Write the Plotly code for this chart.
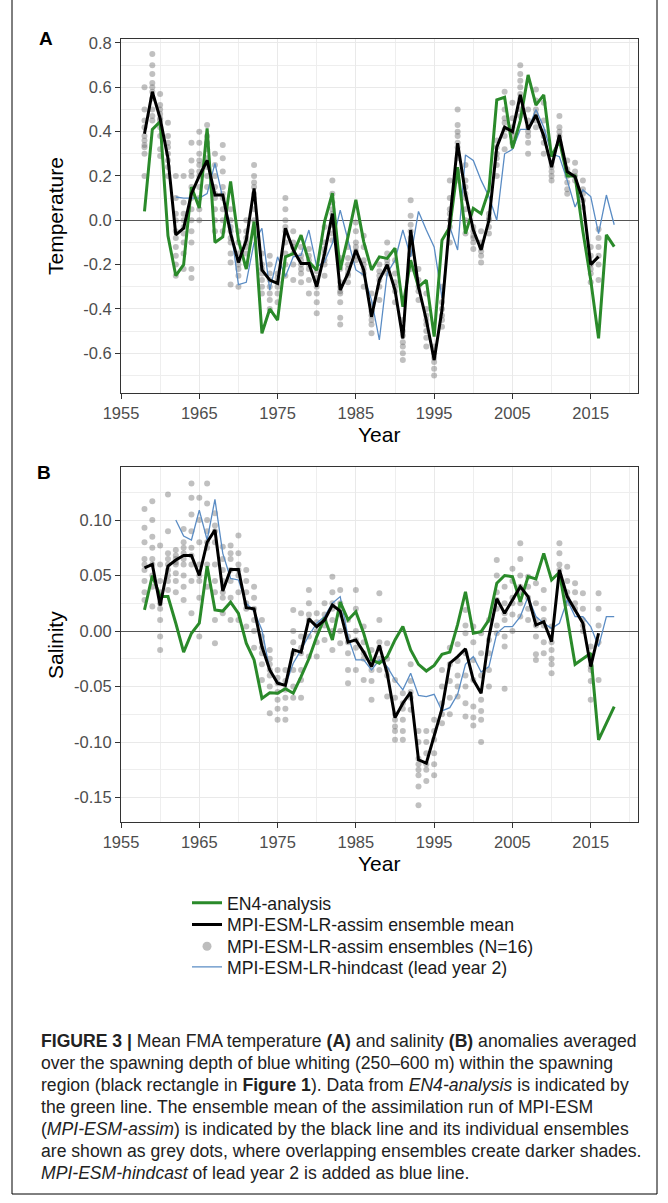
import plotly.graph_objects as go

# ---------------- data ----------------
years_all = list(range(1958, 2019))          # EN4-analysis years
years_assim = list(range(1958, 2017))        # assimilation years
years_hind = list(range(1962, 2019))         # hindcast lead year 2

en4_temp = [0.04, 0.41, 0.445, -0.07, -0.25, -0.2, 0.15, 0.055, 0.415, -0.1,
            -0.075, 0.175, -0.09, -0.22, -0.006, -0.51, -0.4, -0.45, -0.165, -0.15,
            -0.067, -0.187, -0.225, -0.006, 0.122, -0.224, -0.074, 0.092, -0.096, -0.224,
            -0.165, -0.172, -0.126, -0.39, -0.18, -0.3, -0.27, -0.525, -0.09, -0.03,
            0.24, -0.06, 0.054, 0.03, 0.137, 0.543, 0.555, 0.325, 0.45, 0.656,
            0.52, 0.566, 0.287, 0.36, 0.2, 0.2, -0.05, -0.27, -0.533, -0.066, -0.119]

mean_temp = [0.39, 0.58, 0.46, 0.28, -0.066, -0.036, 0.12, 0.2, 0.27, 0.114,
             0.114, -0.06, -0.19, -0.09, 0.144, -0.224, -0.27, -0.285, -0.036, -0.134,
             -0.195, -0.195, -0.3, -0.15, 0.03, -0.315, -0.24, -0.134, -0.224, -0.435,
             -0.27, -0.2, -0.315, -0.533, -0.044, -0.3, -0.45, -0.63, -0.405, 0.0,
             0.348, 0.12, -0.044, -0.134, 0.0, 0.33, 0.42, 0.4, 0.566, 0.41,
             0.475, 0.38, 0.24, 0.385, 0.22, 0.197, 0.09, -0.2, -0.164]

hind_temp = [0.105, 0.1, 0.1, 0.1, 0.12, 0.257, 0.1, -0.03, -0.29, -0.28,
             -0.1, -0.036, -0.315, -0.165, -0.254, -0.165, -0.157, -0.044, -0.21, -0.187,
             -0.104, 0.046, -0.09, -0.224, -0.247, -0.36, -0.54, -0.24, -0.18, -0.044,
             -0.165, 0.04, -0.044, -0.12, -0.35, -0.03, -0.134, 0.295, 0.27, 0.18,
             0.107, 0.0, 0.3, 0.32, 0.41, 0.41, 0.5, 0.42, 0.3, 0.287,
             0.18, 0.06, 0.137, 0.107, -0.06, 0.114, -0.02]

ens_temp = [
    [0.6, 0.5, 0.45, 0.42, 0.38, 0.36, 0.34, 0.33, 0.3, 0.2],
    [0.75, 0.7, 0.66, 0.62, 0.6, 0.58, 0.55, 0.5, 0.47, 0.45],
    [0.57, 0.52, 0.5, 0.48, 0.46, 0.45, 0.42, 0.38, 0.32, 0.29],
    [0.44, 0.38, 0.35, 0.33, 0.3, 0.27, 0.24, 0.2],
    [0.2, 0.1, 0.03, 0.0, -0.05, -0.08, -0.12, -0.16, -0.2, -0.25],
    [0.2, 0.08, 0.03, 0.0, -0.03, -0.06, -0.1, -0.15, -0.22],
    [0.35, 0.27, 0.22, 0.2, 0.15, 0.1, 0.05, 0.0, -0.05, -0.1, -0.22, -0.26],
    [0.4, 0.35, 0.3, 0.27, 0.25, 0.22, 0.2, 0.15, 0.1, 0.05, 0.0],
    [0.43, 0.38, 0.35, 0.32, 0.28, 0.26, 0.24, 0.2, 0.15],
    [0.3, 0.25, 0.2, 0.15, 0.12, 0.1, 0.05, 0.0, -0.05],
    [0.34, 0.28, 0.22, 0.15, 0.12, 0.1, 0.05, 0.0, -0.05],
    [0.05, 0.0, -0.03, -0.05, -0.08, -0.1, -0.15, -0.19, -0.29],
    [-0.05, -0.1, -0.15, -0.18, -0.2, -0.22, -0.25, -0.3],
    [0.0, -0.05, -0.08, -0.1, -0.12, -0.15, -0.2],
    [0.25, 0.2, 0.17, 0.15, 0.12, 0.1, 0.05, 0.0],
    [-0.15, -0.2, -0.22, -0.24, -0.27, -0.3, -0.33],
    [-0.16, -0.2, -0.24, -0.27, -0.3, -0.33, -0.36, -0.4],
    [-0.24, -0.26, -0.28, -0.3, -0.33, -0.37],
    [0.1, 0.05, 0.0, -0.03, -0.05, -0.1, -0.15, -0.2, -0.25],
    [-0.05, -0.1, -0.12, -0.15, -0.2, -0.27],
    [-0.12, -0.16, -0.18, -0.2, -0.22, -0.24, -0.28],
    [-0.13, -0.16, -0.18, -0.2, -0.22, -0.27, -0.33],
    [-0.23, -0.26, -0.28, -0.3, -0.33, -0.37, -0.42],
    [-0.03, -0.1, -0.13, -0.15, -0.18, -0.2, -0.25],
    [0.18, 0.12, 0.08, 0.05, 0.03, 0.0, -0.02, -0.06, -0.09],
    [-0.17, -0.22, -0.28, -0.3, -0.32, -0.33, -0.37, -0.44, -0.47],
    [-0.12, -0.17, -0.2, -0.22, -0.24, -0.25, -0.28],
    [-0.01, -0.05, -0.1, -0.12, -0.14, -0.16, -0.18],
    [-0.07, -0.12, -0.18, -0.2, -0.22, -0.24, -0.3],
    [-0.33, -0.38, -0.41, -0.43, -0.45, -0.47, -0.51],
    [-0.2, -0.23, -0.25, -0.27, -0.3, -0.36],
    [-0.1, -0.15, -0.18, -0.2, -0.22, -0.24],
    [-0.18, -0.24, -0.28, -0.3, -0.32, -0.37],
    [-0.45, -0.5, -0.52, -0.55, -0.57, -0.6, -0.63],
    [0.09, 0.02, -0.02, -0.05, -0.08, -0.1, -0.15, -0.22],
    [-0.22, -0.27, -0.3, -0.32, -0.36],
    [-0.33, -0.4, -0.43, -0.45, -0.47, -0.5, -0.53, -0.57],
    [-0.57, -0.6, -0.62, -0.64, -0.67, -0.7],
    [-0.3, -0.37, -0.4, -0.43, -0.45, -0.48],
    [0.18, 0.1, 0.05, 0.03, 0.0, -0.03, -0.1],
    [0.5, 0.43, 0.4, 0.38, 0.35, 0.33, 0.28, 0.22, 0.18],
    [0.25, 0.18, 0.15, 0.12, 0.1, 0.05, 0.0, -0.06],
    [-0.03, -0.05, -0.07, -0.08, -0.1, -0.13],
    [-0.05, -0.1, -0.12, -0.14, -0.16, -0.19],
    [0.03, 0.01, 0.0, -0.03, -0.06],
    [0.36, 0.33, 0.3, 0.28, 0.25, 0.2],
    [0.58, 0.5, 0.46, 0.44, 0.41, 0.38, 0.32],
    [0.53, 0.46, 0.42, 0.4, 0.38, 0.35],
    [0.7, 0.66, 0.63, 0.6, 0.57, 0.55, 0.5, 0.47],
    [0.5, 0.45, 0.42, 0.4, 0.38, 0.35, 0.3],
    [0.59, 0.54, 0.5, 0.48, 0.45, 0.42],
    [0.53, 0.45, 0.4, 0.38, 0.35, 0.3],
    [0.26, 0.24, 0.22, 0.2, 0.18],
    [0.47, 0.42, 0.4, 0.38, 0.35],
    [0.27, 0.23, 0.2, 0.17, 0.14, 0.12],
    [0.26, 0.22, 0.2, 0.18],
    [0.18, 0.14, 0.12, 0.09, 0.06],
    [-0.12, -0.16, -0.2, -0.22, -0.24, -0.28],
    [-0.04, -0.08, -0.12, -0.16, -0.2, -0.27],
]

en4_sal = [0.019, 0.05, 0.031, 0.031, 0.007, -0.019, -0.002, 0.007, 0.0585, 0.019,
           0.018, 0.026, 0.016, -0.011, -0.026, -0.0607, -0.0556, -0.056, -0.052, -0.056,
           -0.041, -0.025, -0.005, 0.012, -0.008, 0.026, 0.01, 0.0174, -0.002, -0.026,
           -0.029, -0.023, -0.008, 0.004, -0.017, -0.03, -0.036, -0.031, -0.021, -0.019,
           0.006, 0.0354, -0.002, -0.0006, 0.01, 0.043, 0.05, 0.049, 0.0264, 0.049,
           0.047, 0.07, 0.046, 0.053, 0.012, -0.03, -0.025, -0.02, -0.098, -0.083, -0.068]

mean_sal = [0.057, 0.06, 0.023, 0.0585, 0.064, 0.068, 0.068, 0.05, 0.08, 0.091,
            0.036, 0.0555, 0.0555, 0.021, 0.02, -0.014, -0.035, -0.047, -0.049, -0.017,
            -0.019, 0.011, 0.004, 0.01, 0.0234, 0.018, -0.01, -0.008, -0.019, -0.032,
            -0.013, -0.038, -0.078, -0.065, -0.055, -0.116, -0.119, -0.095, -0.07, -0.029,
            -0.023, -0.016, -0.044, -0.056, -0.005, 0.029, 0.016, 0.028, 0.04, 0.031,
            0.0054, 0.0084, -0.0096, 0.055, 0.031, 0.019, 0.007, -0.032, -0.002]

hind_sal = [0.1, 0.0856, 0.082, 0.109, 0.082, 0.1186, 0.07, 0.0474, 0.046, 0.025,
            0.018, 0.001, -0.035, -0.046, -0.049, -0.029, -0.017, -0.004, 0.007, 0.013,
            0.025, 0.031, -0.005, -0.026, -0.026, -0.035, -0.026, -0.032, -0.044, -0.053,
            -0.038, -0.058, -0.059, -0.057, -0.072, -0.069, -0.057, -0.03, -0.023, -0.037,
            -0.032, -0.002, 0.004, 0.004, 0.013, 0.031, 0.013, 0.007, 0.0024, 0.007,
            0.028, 0.013, 0.013, 0.004, -0.014, 0.013, 0.013]

ens_sal = [
    [0.11, 0.093, 0.08, 0.065, 0.06, 0.055, 0.045, 0.035, 0.028],
    [0.117, 0.1, 0.085, 0.075, 0.065, 0.06, 0.05, 0.04, 0.022],
    [0.077, 0.06, 0.045, 0.035, 0.025, 0.02, 0.01, -0.005, -0.017],
    [0.123, 0.09, 0.07, 0.065, 0.06, 0.055, 0.05, 0.045, 0.037],
    [0.073, 0.068, 0.065, 0.062, 0.06, 0.052, 0.045, 0.035],
    [0.092, 0.08, 0.075, 0.07, 0.065, 0.06, 0.05, 0.04, 0.028],
    [0.133, 0.12, 0.105, 0.09, 0.075, 0.068, 0.06, 0.045, 0.016],
    [0.12, 0.1, 0.08, 0.06, 0.05, 0.045, 0.03, -0.005],
    [0.133, 0.115, 0.1, 0.09, 0.08, 0.075, 0.06, 0.04],
    [0.106, 0.095, 0.09, 0.08, 0.06, 0.045, 0.035, 0.01, -0.011],
    [0.076, 0.065, 0.055, 0.045, 0.035, 0.03, 0.016],
    [0.077, 0.07, 0.065, 0.055, 0.045, 0.03, 0.01],
    [0.086, 0.07, 0.06, 0.055, 0.05, 0.035, 0.01],
    [0.055, 0.045, 0.035, 0.025, 0.02, 0.004],
    [0.04, 0.03, 0.02, 0.01, 0.0, -0.015],
    [0.01, -0.005, -0.01, -0.015, -0.02, -0.03, -0.044],
    [-0.017, -0.025, -0.03, -0.035, -0.04, -0.05, -0.074],
    [-0.035, -0.042, -0.047, -0.055, -0.062, -0.07, -0.08],
    [-0.035, -0.045, -0.053, -0.06, -0.07, -0.08],
    [0.019, 0.0, -0.01, -0.02, -0.035, -0.05, -0.06],
    [0.016, -0.005, -0.015, -0.02, -0.035, -0.044, -0.06],
    [0.037, 0.025, 0.015, 0.01, -0.005, -0.023],
    [0.016, 0.008, 0.0, -0.01, -0.023],
    [0.025, 0.015, 0.01, 0.005, -0.008],
    [0.049, 0.035, 0.025, 0.02, 0.01, 0.0, -0.017],
    [0.037, 0.025, 0.02, 0.015, 0.0, -0.011],
    [0.01, -0.005, -0.01, -0.02, -0.035, -0.047],
    [0.037, 0.02, 0.0, -0.008, -0.015, -0.035],
    [0.004, -0.01, -0.02, -0.025, -0.044],
    [-0.017, -0.03, -0.035, -0.045, -0.062],
    [0.034, 0.01, -0.01, -0.015, -0.025, -0.035],
    [-0.011, -0.025, -0.035, -0.04, -0.059],
    [-0.044, -0.06, -0.075, -0.08, -0.086, -0.09, -0.098],
    [-0.056, -0.065, -0.07, -0.08, -0.09, -0.098],
    [-0.03, -0.045, -0.055, -0.06, -0.071],
    [-0.09, -0.1, -0.115, -0.12, -0.125, -0.13, -0.14, -0.157],
    [-0.09, -0.1, -0.11, -0.12, -0.125, -0.135],
    [-0.08, -0.09, -0.098, -0.11, -0.12, -0.13],
    [-0.035, -0.05, -0.065, -0.075, -0.083],
    [-0.015, -0.03, -0.045, -0.06, -0.075],
    [-0.012, -0.027, -0.04, -0.05, -0.059],
    [0.019, 0.005, -0.002, -0.02, -0.04, -0.05, -0.065, -0.077],
    [0.004, -0.01, -0.026, -0.044, -0.068, -0.078, -0.085],
    [-0.002, -0.02, -0.04, -0.062, -0.072, -0.08, -0.1],
    [0.01, -0.008, -0.02, -0.035, -0.05],
    [0.064, 0.05, 0.035, 0.028, 0.02, 0.005, -0.002],
    [0.04, 0.025, 0.016, 0.01, -0.005, -0.014, -0.052],
    [0.056, 0.045, 0.03, 0.025, 0.015, 0.0],
    [0.079, 0.065, 0.05, 0.04, 0.035, 0.025, 0.013],
    [0.049, 0.04, 0.03, 0.02, 0.01],
    [0.043, 0.025, 0.01, 0.005, -0.005, -0.021, -0.026],
    [0.037, 0.02, 0.01, 0.005, -0.01, -0.02],
    [0.004, -0.01, -0.017, -0.025, -0.03, -0.038],
    [0.079, 0.07, 0.06, 0.055, 0.05],
    [0.058, 0.045, 0.035, 0.03, 0.025],
    [0.043, 0.035, 0.025, 0.02],
    [0.034, 0.02, 0.01, 0.005, 0.0],
    [-0.014, -0.025, -0.032, -0.035, -0.045, -0.062],
    [0.034, 0.02, 0.005, -0.01, -0.044],
]

year_tick_labels = ["1955", "1965", "1975", "1985", "1995", "2005", "2015"]
temp_tick_labels = ["-0.6", "-0.4", "-0.2", "0.0", "0.2", "0.4", "0.6", "0.8"]
sal_tick_labels = ["-0.15", "-0.10", "-0.05", "0.00", "0.05", "0.10"]

series_names = ["EN4-analysis", "MPI-ESM-LR-assim ensemble mean",
                "MPI-ESM-LR-assim ensembles (N=16)", "MPI-ESM-LR-hindcast (lead year 2)"]

caption_lines = [
    "<b>FIGURE 3 |</b> Mean FMA temperature <b>(A)</b> and salinity <b>(B)</b> anomalies averaged",
    "over the spawning depth of blue whiting (250\u2013600 m) within the spawning",
    "region (black rectangle in <b>Figure 1</b>). Data from <i>EN4-analysis</i> is indicated by",
    "the green line. The ensemble mean of the assimilation run of MPI-ESM",
    "(<i>MPI-ESM-assim</i>) is indicated by the black line and its individual ensembles",
    "are shown as grey dots, where overlapping ensembles create darker shades.",
    "<i>MPI-ESM-hindcast</i> of lead year 2 is added as blue line.",
]

# ---------------- styling / layout ----------------
W, H = 668, 1203
FONT = "Liberation Sans, Arial, sans-serif"
GREEN = "#2a8a2a"
BLUE = "#5a8cc4"
DOT = "rgba(105,105,105,0.42)"


def fx(p):
    return p / W


def fy(p):
    return 1 - p / H


fig = go.Figure()

# legend ids: one small legend per entry so rows can be spaced like the original
LEG = {0: "legend", 1: "legend2", 2: "legend3", 3: "legend4"}

panels = [
    ("x", "y", en4_temp, mean_temp, hind_temp, ens_temp, True),
    ("x2", "y2", en4_sal, mean_sal, hind_sal, ens_sal, False),
]

for xa, ya, en4, mean, hind, ens, show in panels:
    ex, ey = [], []
    for yr, vals in zip(years_assim, ens):
        for v in vals:
            ex.append(yr)
            ey.append(v)
    fig.add_trace(go.Scatter(x=ex, y=ey, mode="markers", xaxis=xa, yaxis=ya,
                             marker=dict(size=6, color=DOT, line=dict(width=0)),
                             name=series_names[2], showlegend=False, hoverinfo="skip"))
    fig.add_trace(go.Scatter(x=years_hind, y=hind, mode="lines", xaxis=xa, yaxis=ya,
                             line=dict(color=BLUE, width=1.3), name=series_names[3],
                             showlegend=show, legend=LEG[3]))
    fig.add_trace(go.Scatter(x=years_all, y=en4, mode="lines", xaxis=xa, yaxis=ya,
                             line=dict(color=GREEN, width=3), name=series_names[0],
                             showlegend=show, legend=LEG[0]))
    fig.add_trace(go.Scatter(x=years_assim, y=mean, mode="lines", xaxis=xa, yaxis=ya,
                             line=dict(color="black", width=3), name=series_names[1],
                             showlegend=show, legend=LEG[1]))

# legend-only entry for the ensemble dots
fig.add_trace(go.Scatter(x=[None], y=[None], mode="markers", xaxis="x", yaxis="y",
                         marker=dict(size=9, color="#bdbdbd"), name=series_names[2],
                         showlegend=True, legend=LEG[2]))

xdom = [fx(121), fx(637.7)]
year_vals = [int(t) for t in year_tick_labels]
common = dict(showline=True, mirror=True, linecolor="#333333", linewidth=1,
              ticks="outside", ticklen=5, tickwidth=1, tickcolor="#333333",
              tickfont=dict(family=FONT, size=16.5, color="#4d4d4d"),
              showgrid=True, gridcolor="#e9e9e9", gridwidth=1.1, automargin=False)
xcommon = dict(common, range=[1955, 2021], tickmode="array", tickvals=year_vals,
               ticktext=year_tick_labels, zeroline=False,
               minor=dict(tickmode="array", tickvals=[1960, 1970, 1980, 1990, 2000, 2010, 2020],
                          showgrid=True, gridcolor="#eeeeee", gridwidth=0.6, ticks=""))

temp_vals = [float(t) for t in temp_tick_labels]
sal_vals = [float(t) for t in sal_tick_labels]

legend_rows = [903.3, 925, 946.7, 967.3]
legend_style = dict(x=fx(187), xanchor="left", yanchor="middle",
                    font=dict(family=FONT, size=17.7, color="#1a1a1a"),
                    bgcolor="rgba(0,0,0,0)", borderwidth=0)
legends = {LEG[i]: dict(legend_style, y=fy(legend_rows[i])) for i in range(4)}

fig.update_layout(
    width=W, height=H, autosize=False,
    margin=dict(l=0, r=0, t=0, b=0, pad=0, autoexpand=False),
    paper_bgcolor="white", plot_bgcolor="white",
    font=dict(family=FONT, color="black"),
    xaxis=dict(xcommon, domain=xdom, anchor="y"),
    yaxis=dict(common, domain=[fy(392.7), fy(39)], anchor="x", range=[-0.778, 0.818],
               tickmode="array", tickvals=temp_vals, ticktext=temp_tick_labels,
               zeroline=True, zerolinecolor="#555555", zerolinewidth=1.2,
               minor=dict(tickmode="array", tickvals=[-0.7, -0.5, -0.3, -0.1, 0.1, 0.3, 0.5, 0.7],
                          showgrid=True, gridcolor="#eeeeee", gridwidth=0.6, ticks="")),
    xaxis2=dict(xcommon, domain=xdom, anchor="y2"),
    yaxis2=dict(common, domain=[fy(822.3), fy(467.3)], anchor="x2", range=[-0.1723, 0.1475],
                tickmode="array", tickvals=sal_vals, ticktext=sal_tick_labels,
                zeroline=True, zerolinecolor="#555555", zerolinewidth=1.2,
                minor=dict(tickmode="array", tickvals=[-0.125, -0.075, -0.025, 0.025, 0.075, 0.125],
                           showgrid=True, gridcolor="#eeeeee", gridwidth=0.6, ticks="")),
    showlegend=True,
    **legends,
)

annotations = [
    dict(text="<b>A</b>", x=fx(46), y=fy(38.5), font=dict(size=19)),
    dict(text="<b>B</b>", x=fx(44), y=fy(473), font=dict(size=19)),
    dict(text="Year", x=fx(379.4), y=fy(434), font=dict(size=21)),
    dict(text="Year", x=fx(379.4), y=fy(863), font=dict(size=21)),
    dict(text="Temperature", x=fx(55), y=fy(216), font=dict(size=21), textangle=-90),
    dict(text="Salinity", x=fx(55), y=fy(645), font=dict(size=21), textangle=-90),
]
for i, line in enumerate(caption_lines):
    annotations.append(dict(text=line, x=fx(39), y=fy(1041 + 22 * i), xanchor="left",
                            font=dict(size=17.6, color="#222222")))
for a in annotations:
    a.setdefault("xanchor", "center")
    a.update(xref="paper", yref="paper", yanchor="middle", showarrow=False)
    a["font"] = dict(dict(family=FONT, color="black"), **a["font"])
fig.update_layout(annotations=annotations)

# outer frame of the figure panel (top edge lies outside the picture)
fig.add_shape(type="rect", xref="paper", yref="paper",
              x0=fx(12), x1=fx(657), y0=fy(1194), y1=fy(-3),
              line=dict(color="black", width=1), fillcolor="rgba(0,0,0,0)")

fig.write_html("out.html", config={"displayModeBar": False},
               post_script="document.body.style.margin='0px';document.body.style.overflow='hidden';")
